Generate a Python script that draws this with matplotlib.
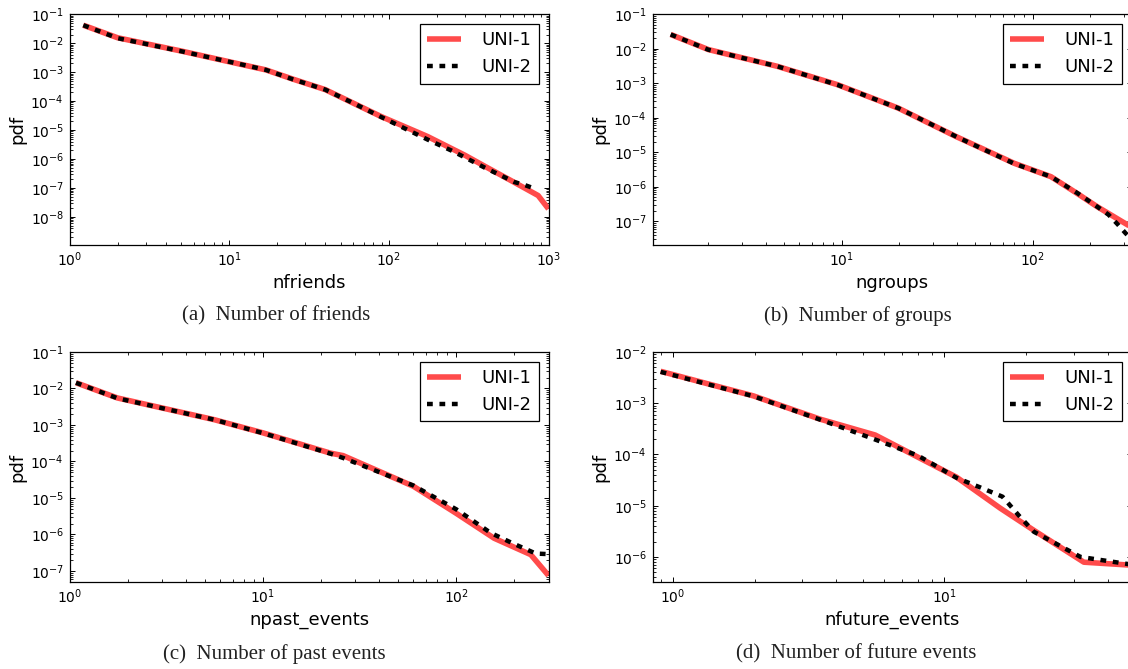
import matplotlib
matplotlib.use("Agg")
import matplotlib.pyplot as plt
import matplotlib.ticker as plticker

# values
fr_x_1 = [1.22, 2.0, 3.0, 5.0, 10, 17, 25, 40, 60, 90, 175, 300, 400, 613, 861, 1000]
fr_y_1 = [4.2e-2, 1.55e-2, 9.7e-3, 5.4e-3, 2.3e-3, 1.2e-3, 5.8e-4, 2.5e-4, 8.5e-5,
          2.9e-5, 6.0e-6, 1.35e-6, 5.6e-7, 1.55e-7, 5.5e-8, 1.9e-8]
fr_x_2 = [1.22, 2.0, 3.0, 5.0, 10, 17, 25, 40, 60, 90, 175, 250, 400, 613, 700, 800]
fr_y_2 = [4.2e-2, 1.5e-2, 9.5e-3, 5.3e-3, 2.3e-3, 1.2e-3, 5.7e-4, 2.5e-4, 8.5e-5,
          2.8e-5, 4.7e-6, 1.9e-6, 5.0e-7, 1.6e-7, 1.3e-7, 1.0e-7]

gr_x_1 = [1.27, 2.0, 4.6, 9.5, 19.8, 40, 80, 125, 172, 219, 330]
gr_y_1 = [2.6e-2, 9.5e-3, 3.1e-3, 9.1e-4, 1.9e-4, 2.8e-5, 4.8e-6, 1.95e-6, 6.3e-7,
          2.6e-7, 6.7e-8]
gr_x_2 = [1.27, 2.0, 4.6, 9.5, 19.8, 40, 80, 125, 172, 219, 250, 280, 307, 330]
gr_y_2 = [2.6e-2, 9.4e-3, 3.1e-3, 9.0e-4, 1.9e-4, 2.8e-5, 4.7e-6, 1.95e-6, 6.5e-7,
          2.6e-7, 1.55e-7, 8.0e-8, 4.5e-8, 3.0e-8]

pe_x_1 = [1.08, 1.77, 5.6, 10, 22.3, 26, 60, 100, 157, 243, 300]
pe_y_1 = [1.44e-2, 5.5e-3, 1.4e-3, 6.1e-4, 1.7e-4, 1.45e-4, 2.1e-5, 3.8e-6, 7.9e-7,
          2.8e-7, 7.5e-8]
pe_x_2 = [1.08, 1.77, 5.6, 10, 22.3, 26, 60, 100, 151, 195, 258, 300]
pe_y_2 = [1.44e-2, 5.4e-3, 1.4e-3, 6.0e-4, 1.65e-4, 1.25e-4, 2.2e-5, 4.9e-6, 1.1e-6,
          5.8e-7, 3.0e-7, 2.9e-7]

fe_x_1 = [0.90, 1.98, 3.48, 5.56, 11.1, 16.1, 21.4, 32.7, 49]
fe_y_1 = [4.2e-3, 1.39e-3, 4.9e-4, 2.4e-4, 3.6e-5, 8.9e-6, 3.3e-6, 7.9e-7, 6.9e-7]
fe_x_2 = [0.90, 1.98, 3.48, 5.3, 8, 11.1, 13.5, 16.4, 18.8, 21.4, 31.8, 49]
fe_y_2 = [4.1e-3, 1.37e-3, 4.8e-4, 2.15e-4, 9.5e-5, 3.5e-5, 2.3e-5, 1.5e-5, 6.5e-6,
          3.1e-6, 1.0e-6, 7.1e-7]

series_names = ["UNI-1", "UNI-2"]

panels = [
    # (x1, y1, x2, y2, xlabel, caption, xlim, ylim)
    (fr_x_1, fr_y_1, fr_x_2, fr_y_2, "nfriends", "(a)  Number of friends",
     (1, 1000), (1.05e-9, 1e-1)),
    (gr_x_1, gr_y_1, gr_x_2, gr_y_2, "ngroups", "(b)  Number of groups",
     (1.02, 330), (2e-8, 1e-1)),
    (pe_x_1, pe_y_1, pe_x_2, pe_y_2, "npast_events", "(c)  Number of past events",
     (1, 300), (4.9e-8, 1e-1)),
    (fe_x_1, fe_y_1, fe_x_2, fe_y_2, "nfuture_events", "(d)  Number of future events",
     (0.84, 49), (3.2e-7, 1e-2)),
]

W, H = 1128, 669
# axes boxes in pixels: left, top, width, height
boxes = [(69.5, 14.3, 479, 231), (652.5, 14.3, 479, 231),
         (69.5, 352, 479, 230.3), (652.5, 352, 479, 230.3)]
captions_xy = [(276, 316), (858, 316), (274, 654), (856, 654)]

plt.rcParams.update({
    "font.family": "DejaVu Sans",
    "xtick.direction": "in", "ytick.direction": "in",
    "xtick.top": True, "ytick.right": True,
    "xtick.major.size": 3.5, "ytick.major.size": 3.5,
    "xtick.minor.size": 2, "ytick.minor.size": 2,
    "xtick.major.width": 0.7, "ytick.major.width": 0.7,
    "xtick.minor.width": 0.6, "ytick.minor.width": 0.6,
    "axes.linewidth": 0.9,
})

fig = plt.figure(figsize=(W / 100, H / 100), dpi=100)
red = "#ff4b4b"

for (x1, y1, x2, y2, xlab, cap, xl, yl), (l, t, w, h), (cx, cy) in zip(panels, boxes, captions_xy):
    ax = fig.add_axes([l / W, 1 - (t + h) / H, w / W, h / H])
    ax.plot(x1, y1, color=red, lw=4, label=series_names[0], solid_capstyle="butt")
    ax.plot(x2, y2, color="black", lw=3.2, linestyle=(0, (1.3, 1.5)), label=series_names[1])
    ax.set_xscale("log")
    ax.set_yscale("log")
    ax.set_xlim(*xl)
    ax.set_ylim(*yl)
    ax.yaxis.set_major_locator(plticker.LogLocator(base=10, numticks=20))
    ax.yaxis.set_minor_locator(plticker.LogLocator(base=10, subs=range(2, 10), numticks=20))
    ax.xaxis.set_minor_formatter(plticker.NullFormatter())
    ax.yaxis.set_minor_formatter(plticker.NullFormatter())
    ax.tick_params(which="both", labelsize=10, pad=4)
    ax.set_xlabel(xlab, fontsize=13, labelpad=3)
    ax.set_ylabel("pdf", fontsize=13, labelpad=3)
    leg = ax.legend(loc="upper right", fontsize=13, fancybox=False, framealpha=1,
                    edgecolor="black", handlelength=1.9, handletextpad=1.1,
                    borderaxespad=0.55)
    leg.get_frame().set_linewidth(0.9)
    fig.text(cx / W, 1 - cy / H, cap, ha="center", va="center",
             fontsize=15, family="Liberation Serif", color="#222222")

fig.savefig("out.png", dpi=100)
